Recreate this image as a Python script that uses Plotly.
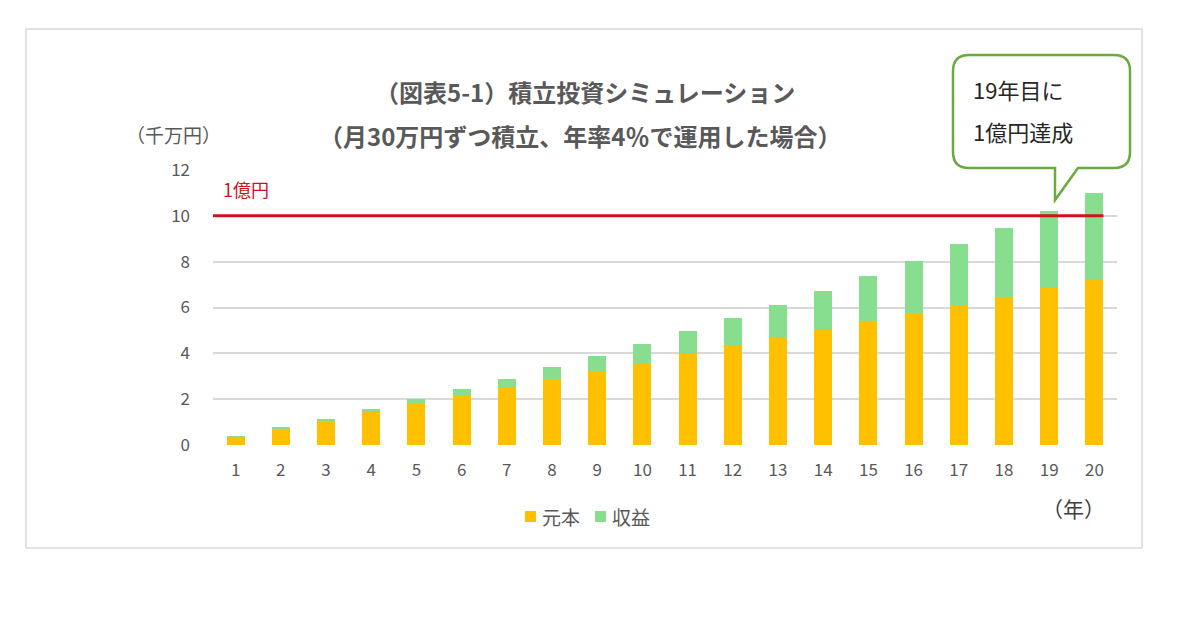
import plotly.graph_objects as go

years = list(range(1, 21))
principal = [0.36, 0.72, 1.08, 1.44, 1.80, 2.16, 2.52, 2.88, 3.24, 3.60,
             3.96, 4.32, 4.68, 5.04, 5.40, 5.76, 6.12, 6.48, 6.84, 7.20]
gain = [0.01, 0.03, 0.07, 0.12, 0.19, 0.28, 0.38, 0.51, 0.65, 0.82,
        1.00, 1.21, 1.45, 1.70, 1.98, 2.29, 2.63, 2.99, 3.38, 3.80]
target = 10
yticks = [0, 2, 4, 6, 8, 10, 12]
series_names = ["元本", "収益"]
series_colors = ["#FFC000", "#86DE8E"]

W, H = 1200, 618
L, R, T, B = 213, 1117, 170, 445
FONT = "Noto Sans CJK JP"
GRAY = "#595959"


def px(x):
    return (x - L) / (R - L)


def py(y):
    return (B - y) / (B - T)


fig = go.Figure()
for vals, name, col in zip([principal, gain], series_names, series_colors):
    fig.add_trace(go.Bar(x=years, y=vals, name=name, marker_color=col,
                         width=0.4, marker_line_width=0, showlegend=False))

shapes = []
# outer frame
shapes.append(dict(type="rect", xref="paper", yref="paper",
                   x0=px(26), x1=px(1142), y0=py(548), y1=py(29),
                   line=dict(color="#d9d9d9", width=1.5), layer="below"))
# target line
shapes.append(dict(type="line", xref="x", yref="y", x0=0.5, x1=20.2,
                   y0=target, y1=target, line=dict(color="#D0121B", width=3)))

# callout path
bx0, bx1, by0, by1, r = 953, 1130, 55, 168, 16
tip = (1055, 200)
base_l, base_r = 1055, 1078
pts = [
    ("M", bx0 + r, by0),
    ("L", bx1 - r, by0),
    ("Q", bx1, by0, bx1, by0 + r),
    ("L", bx1, by1 - r),
    ("Q", bx1, by1, bx1 - r, by1),
    ("L", base_r, by1),
    ("L", tip[0], tip[1]),
    ("L", base_l, by1),
    ("L", bx0 + r, by1),
    ("Q", bx0, by1, bx0, by1 - r),
    ("L", bx0, by0 + r),
    ("Q", bx0, by0, bx0 + r, by0),
]
path = ""
for p in pts:
    coords = p[1:]
    s = [f"{px(coords[i]):.5f},{py(coords[i+1]):.5f}" for i in range(0, len(coords), 2)]
    path += p[0] + " " + " ".join(s) + " "
path += "Z"
shapes.append(dict(type="path", xref="paper", yref="paper", path=path,
                   fillcolor="white", line=dict(color="#6AAB3E", width=2.5)))

# custom legend
leg_x = [525, 595]
for lx, col in zip(leg_x, series_colors):
    shapes.append(dict(type="rect", xref="paper", yref="paper",
                       x0=px(lx), x1=px(lx + 11), y0=py(522), y1=py(511),
                       fillcolor=col, line=dict(width=0)))

annotations = [
    dict(text="<b>（図表5-1）積立投資シミュレーション</b>", x=px(585), y=py(92),
         font=dict(size=24, color=GRAY)),
    dict(text="<b>（月30万円ずつ積立、年率4％で運用した場合）</b>", x=px(580), y=py(135),
         font=dict(size=24, color=GRAY)),
    dict(text="（千万円）", x=px(223), y=py(134), xanchor="right",
         font=dict(size=19, color=GRAY)),
    dict(text="1億円", x=px(221), y=py(189), xanchor="left",
         font=dict(size=18, color="#D0121B")),
    dict(text="（年）", x=px(1107), y=py(508), xanchor="right",
         font=dict(size=21, color="#404040")),
    dict(text="19年目に", x=px(971), y=py(89), xanchor="left",
         font=dict(size=22, color="#262626")),
    dict(text="1億円達成", x=px(971), y=py(131), xanchor="left",
         font=dict(size=22, color="#262626")),
]
for lx, name in zip(leg_x, series_names):
    annotations.append(dict(text=name, x=px(lx + 15), y=py(516), xanchor="left",
                            font=dict(size=19, color=GRAY)))
for a in annotations:
    a.update(xref="paper", yref="paper", showarrow=False)
    a.setdefault("xanchor", "center")
    a["yanchor"] = "middle"

fig.update_layout(
    width=W, height=H,
    margin=dict(l=L, r=W - R, t=T, b=H - B, pad=0),
    barmode="stack",
    plot_bgcolor="white", paper_bgcolor="white",
    font=dict(family=FONT, color=GRAY, size=16),
    shapes=shapes, annotations=annotations,
    showlegend=False,
    xaxis=dict(range=[0.5, 20.5], tickvals=years, ticktext=[str(y) for y in years],
               showgrid=False, zeroline=False, showline=False, ticks="",
               tickfont=dict(size=17, color=GRAY), ticklabelstandoff=13),
    yaxis=dict(range=[0, 12], tickvals=yticks, showgrid=True, gridcolor="#d9d9d9",
               gridwidth=1.5, zeroline=False, showline=False, ticks="",
               tickfont=dict(size=17, color=GRAY), ticklabelstandoff=22),
)

fig.write_html("out.html")
